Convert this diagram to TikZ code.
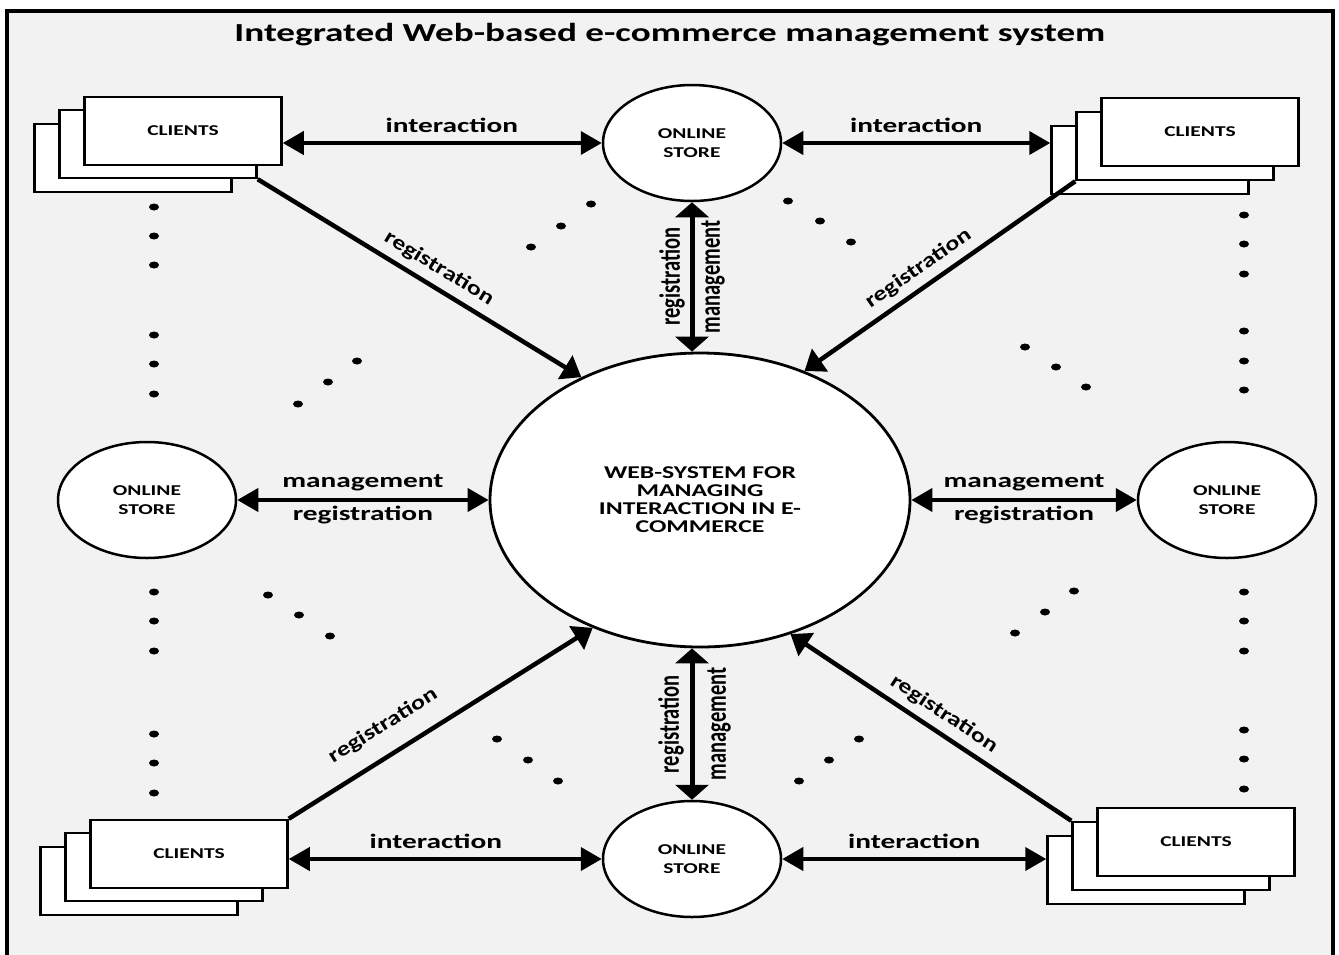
\documentclass[tikz,border=0pt]{standalone}
\usepackage{fontspec}
\setmainfont{Carlito}[FakeStretch=1.43]
\newfontfamily\upfont{Carlito}
\newfontfamily\slfont{Carlito}[FakeStretch=1.27]
\usetikzlibrary{arrows.meta,shapes.geometric,calc}
\definecolor{frame_grey}{RGB}{242, 242, 242}
\tikzstyle{cn}=[rectangle,fill=white,draw=black,line width=2.5pt,
  minimum width=197pt,minimum height=68pt,font=\fontsize{15}{18}\selectfont\bfseries]
\tikzstyle{sn}=[ellipse,fill=white,draw=black,line width=2.5pt,align=center,
  minimum width=178pt,minimum height=116pt,font=\fontsize{15}{19}\selectfont\bfseries]
\tikzstyle{wn}=[ellipse,fill=white,draw=black,line width=2.8pt,align=center,
  minimum width=420pt,minimum height=294pt,font=\fontsize{18}{18}\selectfont\bfseries]
\tikzstyle{tn}=[font=\fontsize{26}{30}\selectfont\bfseries]
\tikzstyle{ln}=[font=\fontsize{20.5}{24}\selectfont\bfseries]
\tikzstyle{dn}=[font=\slfont\fontsize{20.5}{24}\selectfont\bfseries,sloped]
\tikzstyle{vn}=[font=\upfont\fontsize{20.5}{24}\selectfont\bfseries,xscale=1.43,rotate=90]
\tikzstyle{ha}=[line width=4pt,>={Triangle[length=21pt,width=23pt]},<->]
\tikzstyle{va}=[line width=5pt,>={Triangle[length=15pt,width=33pt]},<->]
\tikzstyle{da}=[line width=4.5pt,>={Triangle[length=19pt,width=27pt]},->]
\tikzstyle{none}=[]
\begin{document}
\begin{tikzpicture}[x=1pt, y=-1pt]
            \useasboundingbox (0, 0) rectangle (1339, 954);
            \draw [line width=3.5pt, fill=frame_grey] (7, 11) rectangle (1333, 975);
            \node [style=tn, anchor=base] (0) at (670, 41) {Integrated Web-based e-commerce management system};
            \node [style=wn] (1) at (700, 500) {WEB-SYSTEM FOR\\MANAGING\\INTERACTION IN E-\\COMMERCE};
            \node [style=sn] (2) at (692, 143) {ONLINE\\STORE};
            \node [style=sn] (3) at (147, 500) {ONLINE\\STORE};
            \node [style=sn] (4) at (1227, 500) {ONLINE\\STORE};
            \node [style=sn] (5) at (692, 859) {ONLINE\\STORE};
            \node [style=cn] (8) at (133, 158) {};
            \node [style=cn] (7) at (158, 144) {};
            \node [style=cn] (6) at (183, 131) {CLIENTS};
            \node [style=cn] (11) at (1150, 160) {};
            \node [style=cn] (10) at (1175, 146) {};
            \node [style=cn] (9) at (1200, 132) {CLIENTS};
            \node [style=cn] (14) at (139, 881) {};
            \node [style=cn] (13) at (164, 867) {};
            \node [style=cn] (12) at (189, 854) {CLIENTS};
            \node [style=cn] (17) at (1146, 870) {};
            \node [style=cn] (16) at (1171, 856) {};
            \node [style=cn] (15) at (1196, 842) {CLIENTS};
            \draw [style=ha] (6.east |- 2.west) to node [style=ln, above=5pt, pos=0.53] {interaction} (2.west);
            \draw [style=ha] (2.east) to node [style=ln, above=5pt] {interaction} (2.east -| 11.west);
            \draw [style=ha] (12.east |- 5.west) to node [style=ln, above=5pt, pos=0.47] {interaction} (5.west);
            \draw [style=ha] (5.east) to node [style=ln, above=5pt] {interaction} (5.east -| 17.west);
            \draw [style=ha] (3) to node [style=ln, above=4pt] {management} node [style=ln, below=1pt] {registration} (1);
            \draw [style=ha] (1) to node [style=ln, above=4pt] {management} node [style=ln, below=1pt] {registration} (4);
            \draw [style=va] (2.south) to node [xshift=-20pt, style=vn] {registration} node [xshift=21pt, style=vn] {management} (2.south |- 1.north);
            \draw [style=va] (5.north |- 1.south) to node [xshift=-21pt, style=vn] {registration} node [xshift=27pt, style=vn] {management} (5.north);
            \draw [style=da] (7.south east) to node [style=dn, above=4pt, pos=0.53] {registration} (1.134);
            \draw [style=da] (10.south west) to node [style=dn, above=4pt, pos=0.54] {registration} (1.51);
            \draw [style=da] (12.north east) to node [style=dn, above=14pt, pos=0.36] {registration} (1.230);
            \draw [style=da] (16.north west) to node [style=dn, above=4pt, pos=0.49] {registration} (1.304);
            % dots
            \foreach \x/\y in {154/207, 154/236, 154/265, 154/335, 154/364, 154/394,
                154/592, 154/621, 154/651, 154/734, 154/763, 154/793,
                1244/215, 1244/244, 1244/274, 1244/331, 1244/361, 1244/390,
                1244/592, 1244/621, 1244/651, 1244/730, 1244/759, 1244/789,
                531/247, 561/226, 591/204, 788/201, 820/221, 851/242,
                357/361, 328/382, 298/404, 268/595, 299/615, 330/636,
                1025/347, 1056/367, 1086/387, 1074/591, 1045/612, 1015/633,
                497/739, 528/760, 558/781, 859/739, 829/760, 799/781}
                \fill (\x, \y) ellipse [x radius=5pt, y radius=3.5pt];
\end{tikzpicture}
\end{document}
